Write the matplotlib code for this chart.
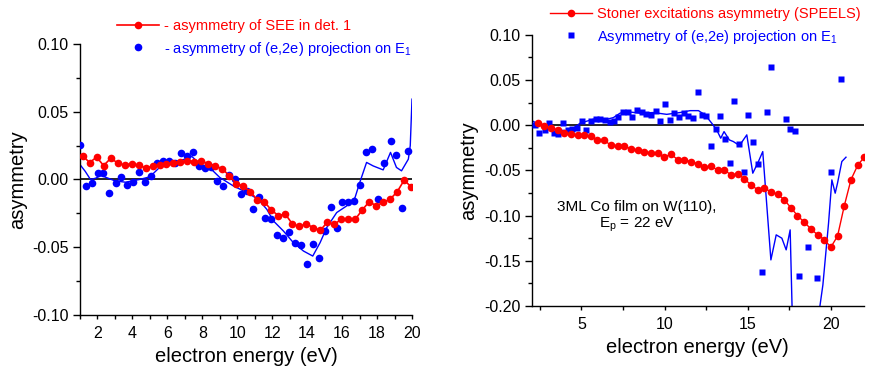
import matplotlib
matplotlib.use("Agg")
import matplotlib.pyplot as plt
from matplotlib.ticker import MultipleLocator

plt.rcParams["font.family"] = ["Liberation Sans", "DejaVu Sans"]
plt.rcParams["mathtext.fontset"] = "custom"
plt.rcParams["mathtext.rm"] = "Liberation Sans"
plt.rcParams["mathtext.it"] = "Liberation Sans"

# left panel: SEE asymmetry (red) and (e,2e) projection (blue)
see_x = [1.15, 1.55, 1.95, 2.35, 2.75, 3.15, 3.55, 3.95, 4.35, 4.75, 5.15, 5.55,
         5.95, 6.35, 6.75, 7.15, 7.55, 7.95, 8.35, 8.75, 9.15, 9.55, 9.95, 10.35,
         10.75, 11.15, 11.55, 11.95, 12.35, 12.75, 13.15, 13.55, 13.95, 14.35, 14.75, 15.15,
         15.55, 15.95, 16.35, 16.75, 17.15, 17.55, 17.95, 18.35, 18.75, 19.15, 19.55, 19.95]
see_y = [0.0175, 0.0125, 0.0165, 0.0103, 0.0155, 0.0124, 0.0105, 0.0118, 0.0105, 0.0086, 0.0096, 0.0110,
         0.0118, 0.0125, 0.0132, 0.0140, 0.0132, 0.0137, 0.0115, 0.0100, 0.0078, 0.0027, -0.0030, -0.0050,
         -0.0090, -0.0150, -0.0165, -0.0225, -0.0267, -0.0255, -0.0328, -0.0346, -0.0328, -0.0355, -0.0375, -0.0316,
         -0.0331, -0.0294, -0.0294, -0.0294, -0.0225, -0.0164, -0.0194, -0.0169, -0.0145, -0.0091, -0.0005, -0.0054]

e2e_x = [1.0, 1.32, 1.67, 2.01, 2.34, 2.68, 3.04, 3.37, 3.71, 4.05, 4.40, 4.74, 5.06, 5.39,
         5.75, 6.09, 6.44, 6.78, 7.14, 7.47, 7.81, 8.15, 8.50, 8.84, 9.18, 9.53, 9.87, 10.21,
         10.56, 10.90, 11.24, 11.59, 11.91, 12.26, 12.60, 12.94, 13.29, 13.63, 13.97, 14.32, 14.66, 15.00,
         15.35, 15.69, 16.01, 16.36, 16.70, 17.04, 17.39, 17.73, 18.07, 18.42, 18.78, 19.10, 19.45, 19.79]
e2e_y = [0.0252, -0.0047, -0.0027, 0.0051, 0.0051, -0.0096, -0.0027, 0.0015, -0.0042, -0.0015, 0.0056, -0.0020, 0.0027, 0.0125,
         0.0140, 0.0140, 0.0125, 0.0196, 0.0176, 0.0201, 0.0100, 0.0086, 0.0093, -0.0010, -0.0047, 0.0032, 0.0007, -0.0108,
         -0.0088, -0.0221, -0.0127, -0.0284, -0.0294, -0.0409, -0.0431, -0.0390, -0.0466, -0.0480, -0.0627, -0.0478, -0.0583, -0.0380,
         -0.0206, -0.0360, -0.0169, -0.0164, -0.0157, -0.0039, 0.0201, 0.0223, -0.0145, 0.0120, 0.0284, 0.0184, -0.0208, 0.0211]

e2e_fit_x = [1.0, 1.3, 1.6, 1.9, 2.2, 2.6, 3.0, 3.6, 4.0, 4.4, 5.0, 5.4, 5.8, 6.4, 7.0, 7.4,
             7.87, 8.4, 9.0, 9.77, 10.54, 11.2, 11.69, 12.07, 12.64, 13.21, 13.79, 14.32, 14.74, 15.12,
             15.69, 16.26, 16.74, 17.01, 17.4, 17.78, 18.35, 18.77, 19.11, 19.4, 19.79, 19.9, 20.0]
e2e_fit_y = [0.011, 0.006, 0.000, 0.001, 0.003, 0.001, -0.001, -0.002, -0.001, 0.000, 0.002, 0.007,
             0.012, 0.013, 0.015, 0.017, 0.0113, 0.009, 0.0015, -0.0047, -0.0096, -0.0146, -0.022, -0.0306,
             -0.038, -0.0466, -0.0528, -0.0565, -0.0466, -0.0355, -0.0244, -0.0195, -0.0133, -0.0022, 0.0126,
             0.010, 0.0071, 0.020, 0.0089, 0.0064, 0.015, 0.025, 0.0593]

# right panel: SPEELS Stoner asymmetry (red) and (e,2e) projection (blue)
sp_x = [2.36, 2.76, 3.16, 3.56, 3.95, 4.37, 4.77, 5.17, 5.57, 5.95, 6.37, 6.77, 7.18, 7.58, 7.98,
        8.38, 8.78, 9.18, 9.58, 9.98, 10.39, 10.79, 11.19, 11.59, 11.99, 12.39, 12.79, 13.19, 13.59,
        14.0, 14.4, 14.8, 15.2, 15.6, 16.0, 16.4, 16.8, 17.2, 17.6, 18.0, 18.41, 18.81, 19.21, 19.61,
        20.01, 20.41, 20.82, 21.22, 21.62, 22.0]
sp_y = [0.0022, -0.0007, -0.0033, -0.0051, -0.0081, -0.0099, -0.0103, -0.0110, -0.0125, -0.0162, -0.0169,
        -0.0221, -0.0228, -0.0235, -0.0261, -0.0276, -0.0294, -0.0305, -0.0309, -0.0353, -0.0320, -0.0382,
        -0.0382, -0.0404, -0.0426, -0.0463, -0.0456, -0.0493, -0.0493, -0.0551, -0.0537, -0.0592, -0.0662,
        -0.0713, -0.0699, -0.0735, -0.0765, -0.0824, -0.0912, -0.1000, -0.1074, -0.1147, -0.1213, -0.1265,
        -0.1349, -0.1228, -0.0890, -0.0603, -0.0445, -0.0357]

proj_x = [2.2, 2.46, 2.78, 3.06, 3.32, 3.6, 3.89, 4.17, 4.45, 4.73, 5.01, 5.29, 5.57, 5.85, 6.13,
          6.41, 6.69, 6.97, 7.22, 7.5, 7.78, 8.06, 8.34, 8.62, 8.9, 9.18, 9.46, 9.74, 10.02, 10.3,
          10.59, 10.87, 11.15, 11.43, 11.71, 11.99, 12.27, 12.51, 12.79, 13.08, 13.36, 13.65, 13.93, 14.2,
          14.49, 14.76, 15.04, 15.31, 15.6, 15.87, 16.14, 16.42, 17.29, 17.56, 17.84, 18.1, 18.64, 19.2,
          20.04, 20.62]
proj_y = [0.0000, -0.0081, -0.0055, 0.0022, -0.0081, -0.0096, 0.0029, -0.0050, -0.0044, -0.0026, 0.0044,
          -0.0051, 0.0051, 0.0070, 0.0066, 0.0055, 0.0037, 0.0044, 0.0096, 0.0143, 0.0143, 0.0096, 0.0169,
          0.0143, 0.0121, 0.0110, 0.0154, 0.0044, 0.0239, 0.0055, 0.0132, 0.0096, 0.0132, 0.0107, 0.0081,
          0.0371, 0.0118, 0.0107, -0.0227, -0.0040, 0.0106, -0.0155, -0.0420, 0.0270, -0.0207, -0.0523,
          0.0114, -0.0182, -0.0427, -0.1620, 0.0144, 0.0642, 0.0066, -0.0044, -0.0062, -0.1670, -0.1342,
          -0.1694, -0.0518, 0.0511]

proj_fit_x = [2.0, 2.7, 3.5, 4.1, 4.5, 4.91, 5.71, 6.52, 6.92, 7.32, 7.72, 8.52, 9.33, 10.13, 10.93,
              11.54, 12.04, 12.44, 12.84, 13.14, 13.38, 13.58, 13.9, 14.14, 14.51, 14.95, 15.31, 15.65,
              15.91, 16.4, 16.72, 17.06, 17.32, 17.56, 17.7, 19.2, 19.53, 19.87, 20.07, 20.27, 20.41,
              20.67, 20.92]
proj_fit_y = [0.0051, -0.0015, -0.0052, -0.0060, -0.0040, 0.0022, 0.0066, 0.0066, 0.0084, 0.0133, 0.0150,
              0.0133, 0.0140, 0.0120, 0.0140, 0.0161, 0.0161, 0.0114, 0.0022, -0.0052, -0.0144, -0.0071,
              -0.0163, -0.0181, -0.0225, -0.0107, -0.0531, -0.0402, -0.0292, -0.1490, -0.1213, -0.1250,
              -0.1379, -0.1158, -0.2200, -0.2200, -0.1766, -0.1084, -0.0605, -0.0752, -0.0641, -0.0402,
              -0.0354]

red = "#ff0000"
blue = "#0000ff"

fig = plt.figure(figsize=(8.83, 3.67), dpi=100)
ax1 = fig.add_axes([0.0906, 0.1417, 0.376, 0.7384])
ax2 = fig.add_axes([0.6021, 0.1662, 0.3763, 0.739])

# left panel
ax1.axhline(0, color="black", lw=1.2, zorder=1)
ax1.plot(e2e_fit_x, e2e_fit_y, color=blue, lw=1, zorder=2)
ax1.plot(e2e_x, e2e_y, "o", color=blue, ms=5.5, mec="none", zorder=3,
         label="- asymmetry of (e,2e) projection on E$_1$")
ax1.plot(see_x, see_y, "-o", color=red, lw=1.2, ms=5.5, mec="none", zorder=4,
         label="- asymmetry of SEE in det. 1")
ax1.set_xlim(1, 20)
ax1.set_ylim(-0.10, 0.10)
ax1.xaxis.set_major_locator(MultipleLocator(2))
ax1.xaxis.set_minor_locator(MultipleLocator(1))
ax1.set_yticks([-0.10, -0.05, 0.00, 0.05, 0.10])
ax1.set_yticklabels(["-0.10", "-0.05", "0.00", "0.05", "0.10"])
ax1.yaxis.set_minor_locator(MultipleLocator(0.025))
ax1.set_xlabel("electron energy (eV)", fontsize=14.5, labelpad=4)
ax1.set_ylabel("asymmetry", fontsize=14.5, labelpad=4)
h, l = ax1.get_legend_handles_labels()
ax1.legend(h[::-1], l[::-1], loc="upper left", bbox_to_anchor=(117 / 883, 1 - 19 / 367),
           bbox_transform=fig.transFigure, frameon=False, fontsize=10.5, handlelength=2.9,
           handletextpad=0.35, borderpad=0, borderaxespad=0, labelspacing=0.45, labelcolor="linecolor")

# right panel
ax2.axhline(0, color="black", lw=1.2, zorder=1)
ax2.plot(proj_fit_x, proj_fit_y, color=blue, lw=1, zorder=2)
ax2.plot(proj_x, proj_y, "s", color=blue, ms=4.5, mec="none", zorder=3,
         label="Asymmetry of (e,2e) projection on E$_1$")
ax2.plot(sp_x, sp_y, "-o", color=red, lw=1, ms=5.5, mec="none", zorder=4,
         label="Stoner excitations asymmetry (SPEELS)")
ax2.set_xlim(2, 22)
ax2.set_ylim(-0.20, 0.10)
ax2.xaxis.set_major_locator(MultipleLocator(5))
ax2.xaxis.set_minor_locator(MultipleLocator(2.5))
ax2.set_yticks([-0.20, -0.15, -0.10, -0.05, 0.00, 0.05, 0.10])
ax2.set_yticklabels(["-0.20", "-0.15", "-0.10", "-0.05", "0.00", "0.05", "0.10"])
ax2.yaxis.set_minor_locator(MultipleLocator(0.025))
ax2.set_xlabel("electron energy (eV)", fontsize=14.5, labelpad=4)
ax2.set_ylabel("asymmetry", fontsize=14.5, labelpad=4)
ax2.text(8.35, -0.090, "3ML Co film on W(110),", fontsize=11, ha="center", va="center")
ax2.text(8.35, -0.110, "E$_\\mathrm{p}$ = 22 eV", fontsize=11, ha="center", va="center")
h, l = ax2.get_legend_handles_labels()
ax2.legend(h[::-1], l[::-1], loc="upper left", bbox_to_anchor=(550 / 883, 1 - 7 / 367),
           bbox_transform=fig.transFigure, frameon=False, fontsize=10.5, handlelength=2.9,
           handletextpad=0.35, borderpad=0, borderaxespad=0, labelspacing=0.45, labelcolor="linecolor")

for ax in (ax1, ax2):
    ax.spines["top"].set_visible(False)
    ax.spines["right"].set_visible(False)
    ax.spines["left"].set_linewidth(1)
    ax.spines["bottom"].set_linewidth(1)
    ax.tick_params(axis="both", which="major", direction="out", length=5, width=1, labelsize=11.5, pad=3)
    ax.tick_params(axis="both", which="minor", direction="out", length=3, width=1)
    ax.tick_params(axis="x", which="both", length=3, pad=5)

fig.savefig("out.png", dpi=100)
